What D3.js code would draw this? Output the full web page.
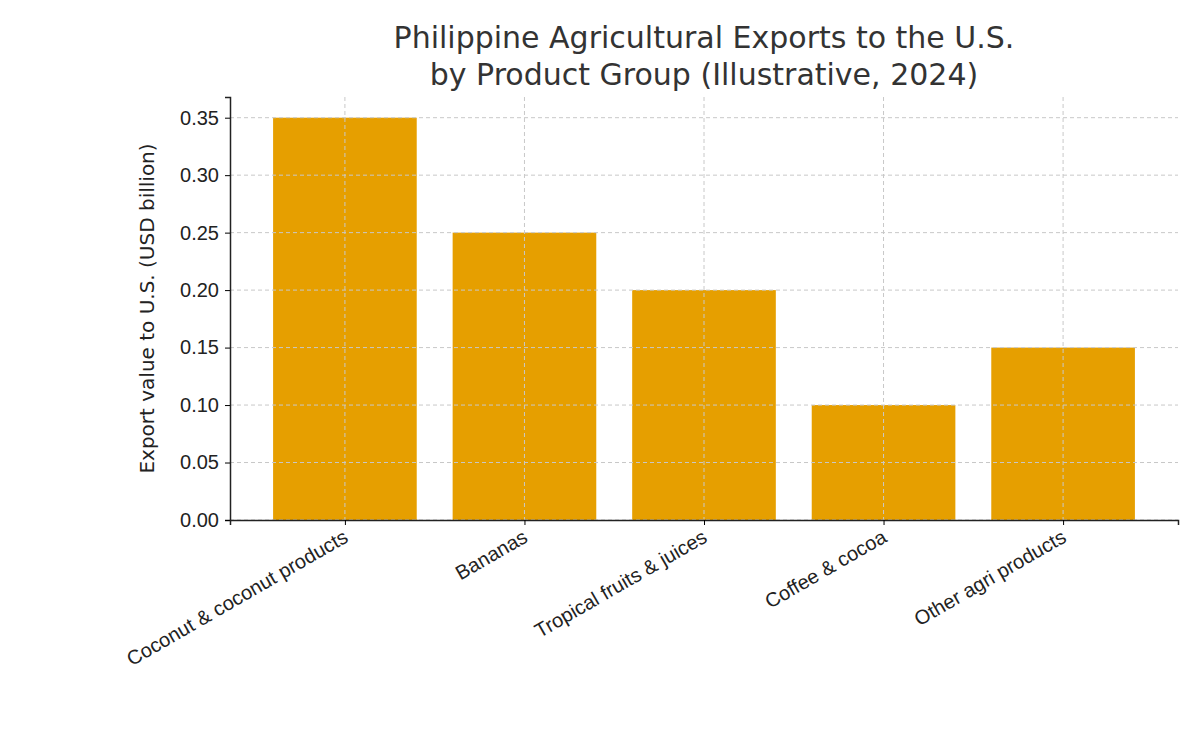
<!DOCTYPE html>
<html><head><meta charset="utf-8">
<script src="https://cdn.jsdelivr.net/npm/d3@7"></script>
<style>body{margin:0;background:#fff}svg{font-family:"DejaVu Sans",sans-serif}</style>
</head><body><div id="chart"></div>
<script>
const categories = ["Coconut & coconut products", "Bananas", "Tropical fruits & juices", "Coffee & cocoa", "Other agri products"];
const values = [0.35, 0.25, 0.20, 0.10, 0.15];
const yTicks = [0, 0.05, 0.10, 0.15, 0.20, 0.25, 0.30, 0.35];

const W = 1200, H = 750, L = 230, R = 1178, T = 97, B = 520;
const svg = d3.select("#chart").append("svg").attr("width", W).attr("height", H);
const x = d3.scaleLinear().domain([-0.64, 4.64]).range([L, R]);
const y = d3.scaleLinear().domain([0, 0.368]).range([B, T]);
const bw = x(0.8) - x(0);

svg.selectAll("rect.bar").data(values).enter().append("rect")
  .attr("x", (d, i) => x(i) - bw / 2).attr("y", d => y(d))
  .attr("width", bw).attr("height", d => B - y(d)).attr("fill", "#E69F00");

const grid = svg.append("g").attr("stroke", "#c8c8c8").attr("stroke-dasharray", "4,3").attr("stroke-width", 1);
yTicks.forEach(t => grid.append("line").attr("x1", L).attr("x2", R).attr("y1", y(t)).attr("y2", y(t)));
categories.forEach((c, i) => grid.append("line").attr("x1", x(i)).attr("x2", x(i)).attr("y1", T).attr("y2", B));

const ya = svg.append("g").attr("transform", `translate(${L},0)`)
  .call(d3.axisLeft(y).tickValues(yTicks).tickFormat(d3.format(".2f")).tickSizeOuter(0).tickSize(5));
ya.selectAll("text").attr("font-size", 20).attr("fill", "#222").attr("dx", -3);
ya.select(".domain").attr("stroke", "#222").attr("stroke-width", 1.5);

const xa = svg.append("g").attr("transform", `translate(0,${B})`)
  .call(d3.axisBottom(x).tickValues(d3.range(categories.length)).tickFormat(i => categories[i]).tickSizeOuter(0).tickSize(5));
xa.select(".domain").attr("stroke", "#222").attr("stroke-width", 1.5);
xa.selectAll("text").attr("font-size", 20).attr("fill", "#222")
  .attr("text-anchor", "end").attr("dy", 0).attr("y", 22).attr("x", 0)
  .attr("transform", "rotate(-30,0,14)");

svg.append("text").attr("transform", `translate(154,${(T + B) / 2}) rotate(-90)`)
  .attr("text-anchor", "middle").attr("font-size", 20).attr("fill", "#222")
  .text("Export value to U.S. (USD billion)");

const title = svg.append("text").attr("text-anchor", "middle").attr("font-size", 30).attr("fill", "#333");
title.append("tspan").attr("x", 704).attr("y", 48).text("Philippine Agricultural Exports to the U.S.");
title.append("tspan").attr("x", 704).attr("y", 85).text("by Product Group (Illustrative, 2024)");
</script></body></html>
